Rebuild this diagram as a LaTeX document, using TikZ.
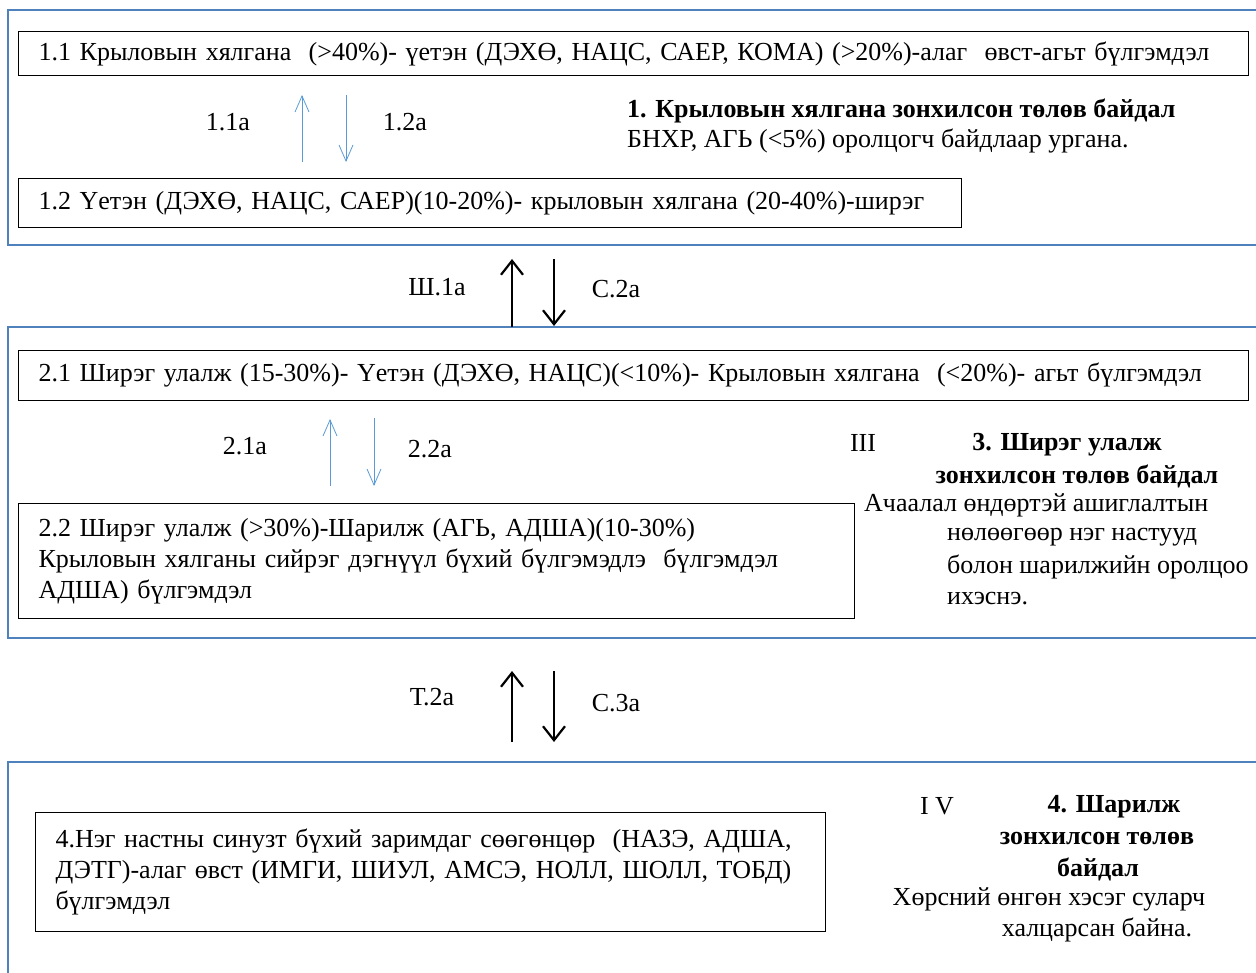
\documentclass[tikz,border=0pt]{standalone}
\usepackage{fontspec}
\setmainfont{Liberation Serif}
\usetikzlibrary{arrows.meta}
\definecolor{panelblue}{HTML}{4F81BD}
\definecolor{arrowblue}{HTML}{5B9BD5}
\begin{document}
\begin{tikzpicture}[x=1pt,y=-1pt,
  txt/.style={font=\fontsize{26}{31}\selectfont, inner sep=0pt},
  boxnode/.style={draw=black, line width=1pt, anchor=north west, inner xsep=20pt, inner ysep=0pt, align=left, font=\fontsize{26}{31}\selectfont},
  panel/.style={draw=panelblue, line width=2pt},
  bluearrow/.style={draw=arrowblue, line width=0.8pt, -{Straight Barb[length=16pt,width=14pt,line width=0.8pt]}},
  blackarrow/.style={draw=black, line width=2.4pt, -{Straight Barb[length=14pt,width=22pt,line width=2.2pt]}},
  boldtxt/.style={txt, font=\fontsize{26}{31}\selectfont\bfseries}]
\path[use as bounding box, clip] (0,0) rectangle (1256,973);
\fill[white] (0,0) rectangle (1256,973);
% panels
\draw[panel] (8,10) rectangle (1290,245);
\draw[panel] (8,327) rectangle (1290,638);
\draw[panel] (8,762) rectangle (1290,1000);
% panel 1
\node[boxnode, minimum width=1230pt, minimum height=44pt, text width=1190pt] (b11) at (18,31)
  {1.1 Крыловын хялгана\ \ (>40\%)- үетэн (ДЭХӨ, НАЦС, САЕР, КОМА) (>20\%)-алаг\ \ өвст-агьт бүлгэмдэл};
\node[boxnode, minimum width=943pt, minimum height=49pt, text width=903pt] (b12) at (18,178)
  {1.2 Үетэн (ДЭХӨ, НАЦС, САЕР)(10-20\%)- крыловын хялгана (20-40\%)-ширэг};
\coordinate (a11s) at (302,162); \coordinate (a11e) at (302,95);
\coordinate (a12s) at (346,95); \coordinate (a12e) at (346,162);
\draw[bluearrow] (a11s) -- (a11e);
\draw[bluearrow] (a12s) -- (a12e);
\node[txt] (l11a) at (228,122) {1.1a};
\node[txt] (l12a) at (405,122) {1.2a};
\node[boldtxt, anchor=west] (t1a) at (627,111) {1. Крыловын хялгана зонхилсон төлөв байдал};
\node[txt, anchor=west] (t1b) at (627,141) {БНХР, АГЬ (<5\%) оролцогч байдлаар ургана.};
% between 1 and 2
\coordinate (s1s) at (512,327); \coordinate (s1e) at (512,259);
\coordinate (c2s) at (554,259); \coordinate (c2e) at (554,326);
\draw[blackarrow] (s1s) -- (s1e);
\draw[blackarrow] (c2s) -- (c2e);
\node[txt] (lsh) at (437,287) {Ш.1а};
\node[txt] (lc2) at (616,289) {С.2а};
% panel 2
\node[boxnode, minimum width=1230pt, minimum height=50pt, text width=1190pt] (b21) at (18,350)
  {2.1 Ширэг улалж (15-30\%)- Үетэн (ДЭХӨ, НАЦС)(<10\%)- Крыловын хялгана\ \ (<20\%)- агьт бүлгэмдэл};
\node[boxnode, minimum width=836pt, minimum height=115pt, text width=796pt] (b22) at (18,503)
  {2.2 Ширэг улалж (>30\%)-Шарилж (АГЬ, АДША)(10-30\%)\\Крыловын хялганы сийрэг дэгнүүл бүхий бүлгэмэдлэ\ \ бүлгэмдэл\\АДША) бүлгэмдэл};
\coordinate (a21s) at (330,486); \coordinate (a21e) at (330,419);
\coordinate (a22s) at (374,418); \coordinate (a22e) at (374,486);
\draw[bluearrow] (a21s) -- (a21e);
\draw[bluearrow] (a22s) -- (a22e);
\node[txt] (l21a) at (245,446) {2.1a};
\node[txt] (l22a) at (430,449) {2.2a};
\node[txt] (r3) at (863,443) {III};
\node[boldtxt] (t3a) at (1067,445) {3. Ширэг улалж};
\node[boldtxt] (t3b) at (1077,476) {зонхилсон төлөв байдал};
\node[txt, anchor=west] (t3c) at (864,505) {Ачаалал өндөртэй ашиглалтын};
\node[txt, anchor=west] (t3d) at (947,537) {нөлөөгөөр нэг настууд};
\node[txt, anchor=west] (t3e) at (947,567) {болон шарилжийн оролцоо};
\node[txt, anchor=west] (t3f) at (947,599) {ихэснэ.};
% between 2 and 3
\coordinate (t2s) at (512,742); \coordinate (t2e) at (512,671);
\coordinate (c3s) at (554,671); \coordinate (c3e) at (554,742);
\draw[blackarrow] (t2s) -- (t2e);
\draw[blackarrow] (c3s) -- (c3e);
\node[txt] (lt2) at (432,697) {Т.2а};
\node[txt] (lc3) at (616,703) {С.3а};
% panel 3
\node[boxnode, minimum width=790pt, minimum height=119pt, text width=750pt] (b4) at (35,812)
  {4.Нэг настны синузт бүхий заримдаг сөөгөнцөр\ \ (НАЗЭ, АДША,\\ДЭТГ)-алаг өвст (ИМГИ, ШИУЛ, АМСЭ, НОЛЛ, ШОЛЛ, ТОБД)\\бүлгэмдэл};
\node[txt] (r4) at (937,806) {I V};
\node[boldtxt] (t4a) at (1114,807) {4. Шарилж};
\node[boldtxt] (t4b) at (1097,838) {зонхилсон төлөв};
\node[boldtxt] (t4c) at (1098,869) {байдал};
\node[txt] (t4d) at (1049,899) {Хөрсний өнгөн хэсэг суларч};
\node[txt] (t4e) at (1097,930) {халцарсан байна.};
\end{tikzpicture}
\end{document}
